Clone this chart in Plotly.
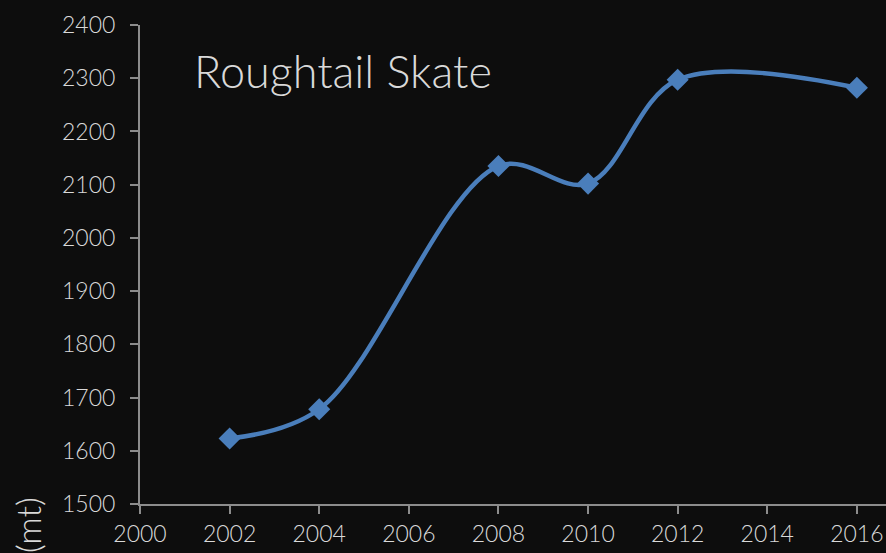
import plotly.graph_objects as go

years = [2002, 2004, 2008, 2010, 2012, 2016]
biomass = [1623, 1678, 2135, 2102, 2297, 2282]
title_text = "Roughtail Skate"
y_label = "(mt)"

BG = "#0d0d0d"
TXT = "#d9d9d9"
AX = "#8c8c8c"
LINE = "#4a7ebb"
FONT = "Lato"

fig = go.Figure()
fig.add_trace(go.Scatter(
    x=years, y=biomass, mode="lines+markers",
    line=dict(color=LINE, width=4.5, shape="spline", smoothing=1.0),
    marker=dict(symbol="diamond", size=17, color=LINE),
    showlegend=False, hoverinfo="skip"))

axis_common = dict(showgrid=False, zeroline=False, showline=True, linecolor=AX, linewidth=2,
                   ticks="outside", ticklen=8, tickwidth=2, tickcolor=AX,
                   tickfont=dict(family=FONT, size=23, color=TXT, weight=300))

fig.update_xaxes(range=[2000, 2016.65], tick0=2000, dtick=2, **axis_common)
fig.update_yaxes(range=[1500, 2400], tick0=1500, dtick=100, ticklabelstandoff=10, **axis_common)

fig.add_annotation(text=title_text, xref="paper", yref="paper", x=(192 - 140) / 746, y=0.905,
                   xanchor="left", yanchor="middle", showarrow=False,
                   font=dict(family=FONT, size=45, color=TXT, weight=300))
fig.add_annotation(text=y_label, xref="paper", yref="paper", x=(27 - 140) / 746, y=(504 - 495) / 479.3,
                   xanchor="center", yanchor="top", textangle=-90, showarrow=False,
                   font=dict(family=FONT, size=34, color=TXT, weight=300))

fig.update_layout(width=886, height=553, margin=dict(l=140, r=0, t=25, b=49),
                  paper_bgcolor=BG, plot_bgcolor=BG)
fig.write_html("out.html", config={"displayModeBar": False},
               post_script="document.body.style.margin='0';document.body.style.background='#0d0d0d';")
